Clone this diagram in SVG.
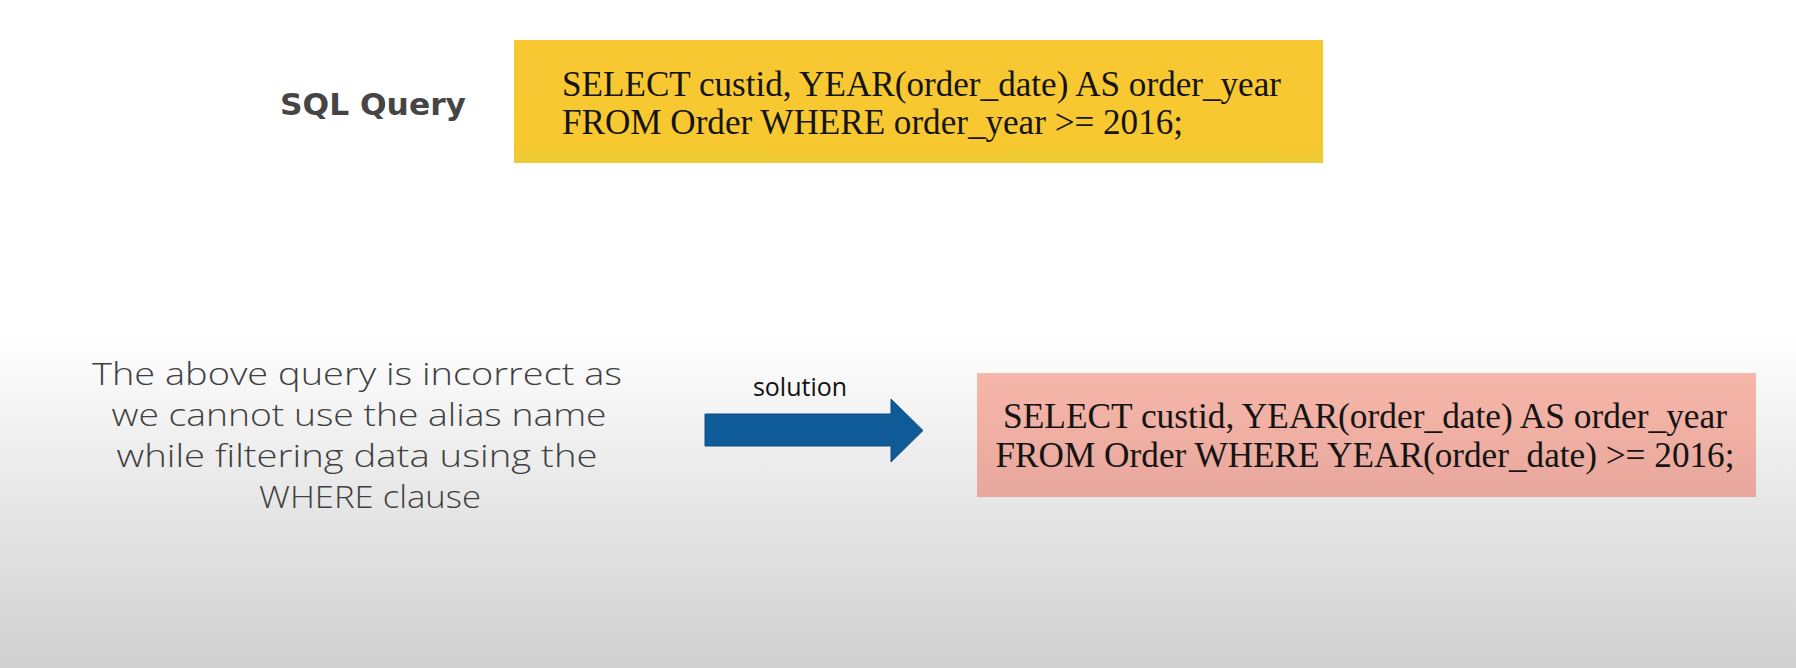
<svg xmlns="http://www.w3.org/2000/svg" width="1796" height="668" viewBox="0 0 1796 668">
  <defs>
    <linearGradient id="bg" x1="0" y1="0" x2="0" y2="1">
      <stop offset="0" stop-color="#ffffff"/>
      <stop offset="0.5" stop-color="#ffffff"/>
      <stop offset="0.65" stop-color="#f0f0f0"/>
      <stop offset="1" stop-color="#d0d0d0"/>
    </linearGradient>
    <linearGradient id="yellowFill" x1="0" y1="0" x2="0" y2="1">
      <stop offset="0" stop-color="#f8c832"/>
      <stop offset="0.85" stop-color="#f7c830"/>
      <stop offset="1" stop-color="#ebcb36"/>
    </linearGradient>
    <linearGradient id="pinkFill" x1="0" y1="0" x2="0" y2="1">
      <stop offset="0" stop-color="#f6b7aa"/>
      <stop offset="1" stop-color="#e8a79c"/>
    </linearGradient>
    <style>
      .heading { font-family: "DejaVu Sans", "Liberation Sans", sans-serif; font-weight: bold; font-size: 30px; fill: #454545; }
      .code { font-family: "Liberation Serif", "DejaVu Serif", serif; font-size: 36px; fill: #141414; }
      .note { font-family: "Open Sans", "Liberation Sans", sans-serif; font-weight: 300; font-size: 32px; fill: #3f3f3f; text-anchor: middle; }
      .label { font-family: "Open Sans", "Liberation Sans", sans-serif; font-size: 25px; fill: #111111; text-anchor: middle; }
      .arrow { fill: #0e5b98; stroke: #0b4f86; stroke-width: 1; }
    </style>
  </defs>

  <rect x="0" y="0" width="1796" height="668" fill="url(#bg)"/>

  <g id="sql-query-label">
    <text class="heading" x="280" y="115" textLength="186" lengthAdjust="spacingAndGlyphs">SQL Query</text>
  </g>

  <g id="query-box">
    <rect x="514" y="40" width="809" height="123" fill="url(#yellowFill)"/>
    <text class="code" x="562" y="96" textLength="719" lengthAdjust="spacingAndGlyphs">SELECT custid, YEAR(order_date) AS order_year</text>
    <text class="code" x="562" y="134" textLength="621" lengthAdjust="spacingAndGlyphs">FROM Order WHERE order_year &gt;= 2016;</text>
  </g>

  <g id="explanation">
    <text class="note" x="357" y="385" textLength="530" lengthAdjust="spacingAndGlyphs">The above query is incorrect as</text>
    <text class="note" x="359" y="426" textLength="495" lengthAdjust="spacingAndGlyphs">we cannot use the alias name</text>
    <text class="note" x="357" y="467" textLength="481" lengthAdjust="spacingAndGlyphs">while filtering data using the</text>
    <text class="note" x="370" y="508" textLength="222" lengthAdjust="spacingAndGlyphs">WHERE clause</text>
  </g>

  <g id="solution-box">
    <rect x="977" y="373" width="779" height="124" fill="url(#pinkFill)"/>
    <text class="code" x="1365" y="428" text-anchor="middle" textLength="724" lengthAdjust="spacingAndGlyphs">SELECT custid, YEAR(order_date) AS order_year</text>
    <text class="code" x="1365" y="467" text-anchor="middle" textLength="739" lengthAdjust="spacingAndGlyphs">FROM Order WHERE YEAR(order_date) &gt;= 2016;</text>
  </g>

  <g id="connectors">
    <text class="label" x="800" y="396">solution</text>
    <path class="arrow" d="M705,414 H891 V399 L923,430.5 L891,462 V446 H705 Z"/>
  </g>
</svg>
